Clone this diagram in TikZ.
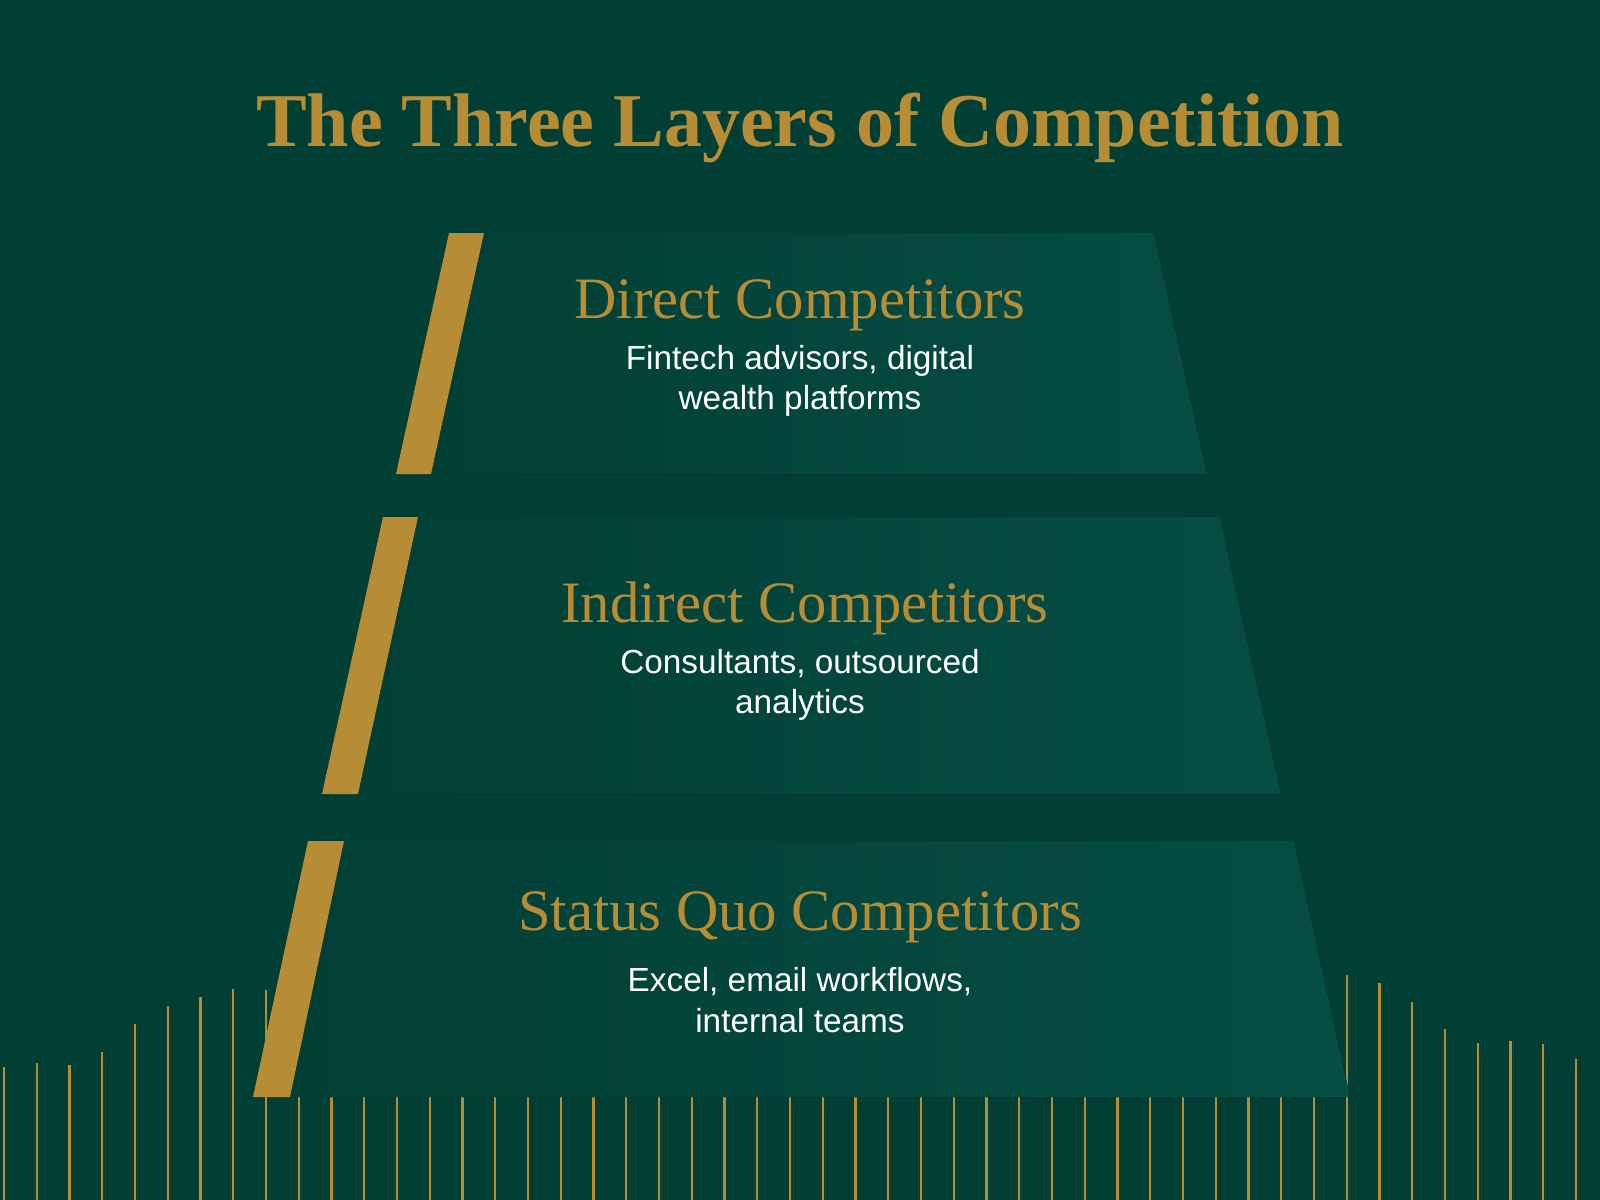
\documentclass[tikz,border=0pt]{standalone}
\usepackage{fontspec}
\setmainfont{Liberation Serif}
\setsansfont{Liberation Sans}
\definecolor{bg}{HTML}{013F35}
\definecolor{lay}{HTML}{064D44}
\definecolor{gold}{HTML}{B68C35}
\tikzset{
  tier/.style={left color=bg, right color=lay, draw=none},
  goldbar/.style={fill=gold, draw=none},
  tick/.style={draw=gold, line width=1.8pt},
  head/.style={text=gold, font=\fontsize{44}{48}\selectfont, anchor=center},
  sub/.style={text=white, font=\sffamily\fontsize{25}{30.5}\selectfont, align=center, anchor=center},
}
\begin{document}
\begin{tikzpicture}[x=0.75pt,y=-0.75pt]
\fill[bg] (0,0) rectangle (1600,1200);
\useasboundingbox (0,0) rectangle (1600,1200);
% ticks
\foreach \k/\t in {0/1067,1/1063,2/1065,3/1052,4/1024,5/1006,6/997,7/989,8/990,
  41/975,42/983,43/1002,44/1029,45/1043,46/1041,47/1044,48/1059}{
  \draw[tick] ({4+32.75*\k},\t) -- ({4+32.75*\k},1200);}
\foreach \k in {9,...,40}{
  \draw[tick] ({4+32.75*\k},1097) -- ({4+32.75*\k},1200);}
% tiers
\fill[tier] (484,233) -- (1154,233) -- (1207,474) -- (431,474) -- cycle;
\fill[goldbar] (449,233) -- (484,233) -- (431,474) -- (396,474) -- cycle;
\fill[tier] (418,517) -- (1220,517) -- (1281,794) -- (358,794) -- cycle;
\fill[goldbar] (383,517) -- (418,517) -- (358,794) -- (322,794) -- cycle;
\fill[tier] (344,841) -- (1294,841) -- (1350,1097) -- (290,1097) -- cycle;
\fill[goldbar] (308,841) -- (344,841) -- (290,1097) -- (253,1097) -- cycle;
% texts
\node[text=gold, font=\bfseries\fontsize{57}{62}\selectfont] (title) at (800,128) {The Three Layers of Competition};
\node[head] (h1) at (800,305) {Direct Competitors};
\node[sub] (s1) at (800,381) {Fintech advisors, digital\\wealth platforms};
\node[head] (h2) at (805,608) {Indirect Competitors};
\node[sub] (s2) at (800,685) {Consultants, outsourced\\analytics};
\node[head] (h3) at (800,917) {Status Quo Competitors};
\node[sub] (s3) at (800,1000) {Excel, email workflows,\\internal teams};
\end{tikzpicture}
\end{document}
